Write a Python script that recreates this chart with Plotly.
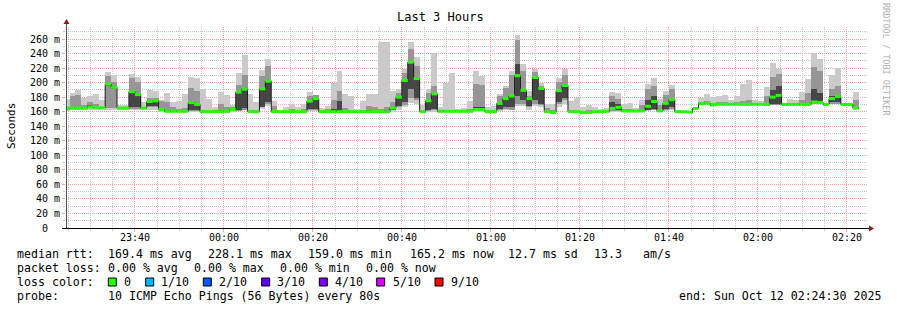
import plotly.graph_objects as go
import pandas as pd

# ---------------- data (ms) ----------------
median_ms = [165, 165, 165, 165, 166.5, 165.5, 165.5, 198, 193.5, 165,
             165, 187.5, 183.5, 165, 174, 175, 163, 160.5, 160.5, 160.5,
             160.5, 172.5, 170, 160, 160, 160, 160, 160.5, 163, 187,
             191, 160, 160, 191.5, 202, 160, 160, 160, 160, 160,
             160, 174.5, 178, 160, 160, 160, 160, 160, 160, 160,
             160, 160, 160, 160, 160, 165, 180, 203, 228.1, 205.5,
             160, 175, 184.5, 160.5, 160.5, 160.5, 160.5, 160.5, 160.5, 163,
             163, 160, 160, 171.5, 178, 181.6, 209.6, 189.4, 178, 207,
             192, 160, 159, 189, 196, 160, 160, 159, 159, 160,
             160, 160.5, 164.5, 166, 161, 161, 161, 161, 167.5, 174,
             161, 171.5, 176.5, 160, 160, 159.5, 164.5, 171, 171.5, 169.3,
             170.2, 170.2, 170.2, 170.2, 170.2, 170.2, 170.2, 170.2, 170.2, 180,
             182.5, 170, 170, 170, 170, 170, 173.4, 172.8, 170, 178,
             181, 170, 170, 165.2]
smoke_min = [161, 162, 162, 162, 162, 162, 162, 163, 163, 162,
             162, 163, 163, 162, 163, 163, 160, 159, 159, 159,
             159, 160, 160, 158, 158, 158, 158, 158, 160, 161,
             162, 158, 158, 164, 168, 158, 158, 158, 158, 158,
             158, 161, 161, 158, 158, 158, 158, 158, 158, 158,
             158, 158, 158, 158, 158, 160, 163, 166, 172, 170,
             158, 159, 160, 159, 159, 159, 159, 159, 159, 160,
             160, 158, 158, 161, 162, 162, 168, 168, 163, 168,
             166, 158, 157, 166, 170, 158, 158, 157, 157, 158,
             158, 158, 160, 160, 159, 159, 159, 159, 161, 162,
             159, 161, 162, 158, 158, 158, 163, 169, 169, 168,
             169, 169, 169, 169, 168, 168, 169, 169, 168, 169,
             169, 168, 168, 168, 168, 168, 170, 170, 168, 170,
             170, 169, 169, 163]
smoke_max = [178, 186, 190, 179, 181, 185, 176, 215, 210, 169,
             169, 212, 208, 174, 190, 189, 176, 186, 173, 175,
             184, 208, 206, 191, 178, 167, 187, 183, 169, 213,
             238, 185, 173, 217, 232, 175, 163, 167, 171, 167,
             170, 187, 183, 165, 168, 200, 216, 185, 181, 164,
             175, 184, 184, 256, 256, 189, 191, 219, 256, 235,
             169, 191, 241, 167, 200, 213, 164, 165, 175, 216,
             209, 166, 168, 185, 195, 216, 266, 225, 188, 219,
             199, 171, 170, 206, 219, 175, 179, 166, 169, 167,
             164, 165, 187, 186, 170, 172, 165, 176, 198, 206,
             177, 188, 197, 163, 162, 161, 165, 179, 184, 180,
             181, 183, 176, 181, 198, 203, 176, 175, 194, 227,
             219, 172, 177, 176, 187, 205, 241, 232, 172, 210,
             220, 171, 170, 187]
smoke_mid_lo = [163, 164, 164, 164, 165, 164, 164, 165, 165, 164,
                164, 164, 164, 164, 166, 166, 162, 160, 160, 160,
                160, 161, 161, 159, 159, 159, 159, 159, 161, 161,
                163, 159, 159, 166, 171, 160, 159, 159, 159, 159,
                159, 163, 163, 159, 159, 159, 160, 159, 159, 159,
                159, 159, 159, 159, 160, 162, 166, 169, 179, 176,
                159, 161, 163, 160, 160, 160, 160, 160, 159, 161,
                161, 159, 159, 163, 164, 163, 171, 171, 166, 171,
                169, 159, 158, 171, 176, 159, 159, 158, 158, 159,
                159, 159, 161, 161, 160, 160, 160, 160, 162, 163,
                160, 163, 164, 159, 159, 159, 164, 170, 170, 169,
                169, 169, 169, 169, 169, 169, 169, 169, 168, 169,
                169, 169, 169, 169, 169, 169, 171, 171, 169, 171,
                171, 169, 169, 164]
smoke_mid_hi = [167, 181, 183, 169, 173, 171, 167, 209, 201, 166,
                166, 206, 201, 167, 179, 179, 175, 173, 166, 164,
                165, 193, 189, 163, 162, 163, 171, 167, 167, 197,
                211, 163, 162, 209, 223, 168, 161, 161, 164, 161,
                164, 181, 183, 163, 164, 176, 189, 165, 163, 161,
                163, 168, 166, 164, 167, 173, 186, 213, 246, 223,
                163, 186, 196, 162, 163, 163, 162, 162, 164, 198,
                197, 162, 163, 181, 193, 211, 259, 216, 181, 215,
                196, 165, 163, 201, 211, 163, 163, 161, 162, 161,
                161, 162, 181, 178, 164, 164, 162, 169, 191, 196,
                169, 183, 191, 161, 161, 160, 165, 173, 175, 172,
                173, 174, 172, 173, 175, 176, 172, 172, 181, 208,
                212, 171, 172, 172, 176, 186, 221, 216, 171, 191,
                196, 171, 170, 176]
smoke_core_lo = [165, 165, 165, 165, 166, 165, 165, 196, 191, 165,
                 165, 166, 166, 165, 168, 168, 162, 160, 160, 160,
                 160, 162, 162, 160, 160, 160, 160, 160, 162, 163,
                 165, 160, 160, 167, 173, 160, 160, 160, 160, 160,
                 160, 164, 164, 160, 160, 160, 161, 160, 160, 160,
                 160, 160, 160, 160, 160, 163, 168, 173, 191, 179,
                 160, 162, 164, 160, 160, 160, 160, 160, 160, 162,
                 162, 160, 160, 164, 166, 166, 181, 176, 168, 176,
                 171, 160, 159, 173, 179, 160, 160, 159, 159, 160,
                 160, 160, 162, 162, 161, 161, 161, 161, 163, 164,
                 161, 164, 166, 160, 160, 159, 164, 171, 171, 169,
                 170, 170, 170, 170, 170, 170, 170, 170, 169, 171,
                 171, 170, 170, 170, 170, 170, 172, 172, 170, 173,
                 174, 170, 170, 164]
smoke_core_hi = [165, 165, 165, 165, 169, 166, 166, 200, 195, 165,
                 165, 188, 184, 165, 174, 175, 165, 163, 161, 161,
                 161, 173, 170, 160, 160, 160, 162, 161, 164, 187,
                 191, 160, 160, 191, 202, 160, 160, 160, 160, 160,
                 160, 175, 178, 160, 160, 164, 175, 160, 160, 160,
                 160, 161, 160, 160, 161, 165, 181, 203, 229, 206,
                 160, 175, 184, 161, 161, 161, 161, 161, 161, 166,
                 166, 160, 160, 172, 178, 182, 226, 191, 178, 207,
                 192, 160, 159, 189, 197, 160, 160, 159, 159, 160,
                 160, 161, 173, 171, 161, 161, 161, 162, 176, 181,
                 161, 173, 177, 160, 160, 160, 165, 171, 172, 170,
                 170, 170, 170, 170, 171, 171, 170, 170, 172, 190,
                 195, 170, 170, 170, 171, 172, 191, 186, 170, 181,
                 183, 170, 170, 166]

y_tick_vals = [0, 20, 40, 60, 80, 100, 120, 140, 160, 180, 200, 220, 240, 260]
y_tick_text = ["0\u00a0\u00a0", "20 m", "40 m", "60 m", "80 m", "100 m", "120 m",
               "140 m", "160 m", "180 m", "200 m", "220 m", "240 m", "260 m"]

rtt_labels = ["median rtt:", "169.4 ms avg", "228.1 ms max", "159.0 ms min",
              "165.2 ms now", "12.7 ms sd", "13.3", "am/s"]
loss_labels = ["packet loss:", "0.00 % avg", "0.00 % max", "0.00 % min", "0.00 % now"]
loss_color_names = ["0", "1/10", "2/10", "3/10", "4/10", "5/10", "9/10"]
loss_colors = ["#26ff00", "#00b8ff", "#0059ff", "#5e00ff", "#7e00ff", "#dd00ff", "#ff0000"]
probe_text = "10 ICMP Echo Pings (56 Bytes) every 80s"
end_text = "end: Sun Oct 12 02:24:30 2025"

STEP_S = 80
first_step = pd.Timestamp("2025-10-11 23:23:58")
n = len(median_ms)
starts = [first_step + pd.Timedelta(seconds=STEP_S * i) for i in range(n)]
centers = [s + pd.Timedelta(seconds=STEP_S / 2) for s in starts]
ends = [s + pd.Timedelta(seconds=STEP_S) for s in starts]
edges = starts + [ends[-1]]

# ---------------- geometry ----------------
W, H = 897, 310
L, R, T, B = 66, 867, 27, 228
PW, PH = R - L, B - T
def px(x): return (x - L) / PW
def py(y): return (B - y) / PH

FONT = "DejaVu Sans Mono"
fig = go.Figure()

def band(lo, hi, color):
    fig.add_trace(go.Bar(x=centers, base=lo, y=[h - l for l, h in zip(lo, hi)],
                         width=STEP_S * 1000, marker=dict(color=color, line=dict(width=0)),
                         hoverinfo="skip"))

band(smoke_min, smoke_max, "#cacaca")
band(smoke_mid_lo, smoke_mid_hi, "#969696")
band(smoke_core_lo, smoke_core_hi, "#464646")

# dark median line (step)
fig.add_trace(go.Scatter(x=edges, y=median_ms + [median_ms[-1]], mode="lines",
                         line=dict(color="#202020", width=1, shape="hv"), hoverinfo="skip"))
# loss-coloured median segments (horizontal only)
gx, gy = [], []
for s, e, m in zip(starts, ends, median_ms):
    gx += [s, e, None]
    gy += [m, m, None]
fig.add_trace(go.Scatter(x=gx, y=gy, mode="lines", connectgaps=False,
                         line=dict(color=loss_colors[0], width=3), hoverinfo="skip"))

ann = []
def text(x, y, s, size=11.6, color="#000", anchor="left", angle=0):
    ann.append(dict(x=px(x), y=py(y), xref="paper", yref="paper", text=s, showarrow=False,
                    xanchor=anchor, yanchor="middle", textangle=angle, borderpad=0,
                    font=dict(family=FONT, size=size, color=color)))

text(440, 17, "Last 3 Hours", size=12, anchor="center")
text(11, 126, "Seconds", size=11, anchor="center", angle=-90)
text(886, 59, "RRDTOOL / TOBI OETIKER", size=8.5, color="#b0b0b0", anchor="center", angle=90)

for s, x in zip(rtt_labels, [16, 107.3, 207.3, 306.7, 409.3, 507.3, 593.3, 642.3]):
    text(x, 254, s)
for s, x in zip(loss_labels, [16, 107.3, 193.3, 279.3, 365.3]):
    text(x, 268, s)
text(16, 282, "loss color:")
shapes = []
for s, c, bx, tx in zip(loss_color_names, loss_colors,
                        [108.3, 145.7, 203.3, 261.7, 319.3, 376.7, 435],
                        [122.7, 160, 218.3, 276, 333.7, 391.7, 450]):
    shapes.append(dict(type="rect", xref="paper", yref="paper", x0=px(bx), x1=px(bx + 8),
                       y0=py(286), y1=py(278), fillcolor=c, line=dict(color="#000", width=1)))
    text(tx, 282, s)
text(16, 296, "probe:")
text(107.3, 296, probe_text)
text(678.3, 296, end_text)

# axis lines and arrows
shapes.append(dict(type="line", xref="paper", yref="paper", x0=px(66.5), x1=px(66.5),
                   y0=py(228), y1=py(23), line=dict(color="#505050", width=1)))
shapes.append(dict(type="line", xref="paper", yref="paper", x0=px(62), x1=px(869),
                   y0=py(228.5), y1=py(228.5), line=dict(color="#000", width=1)))
shapes.append(dict(type="path", xref="paper", yref="paper", xsizemode="pixel", ysizemode="pixel",
                   xanchor=px(66.5), yanchor=py(24), path="M -3 0 L 3 0 L 0 5 Z",
                   fillcolor="#8b1a1a", line=dict(width=0)))
shapes.append(dict(type="path", xref="paper", yref="paper", xsizemode="pixel", ysizemode="pixel",
                   xanchor=px(869), yanchor=py(228.5), path="M 0 -3 L 0 3 L 5 0 Z",
                   fillcolor="#8b1a1a", line=dict(width=0)))

major = "#ff9a9a"
minor = "#c4c4c4"
fig.update_layout(
    width=W, height=H, margin=dict(l=L, r=W - R, t=T, b=H - B),
    paper_bgcolor="white", plot_bgcolor="white", showlegend=False,
    barmode="overlay", bargap=0, annotations=ann, shapes=shapes,
    xaxis=dict(type="date", range=["2025-10-11 23:24:30", "2025-10-12 02:24:30"],
               tickformat="%H:%M", dtick=1200000, tick0="2025-10-11 23:40:00",
               showgrid=True, gridcolor=major, griddash="1px,1px", gridwidth=1,
               ticks="outside", ticklen=3, tickcolor=major, zeroline=False, showline=False,
               ticklabelstandoff=-3,
               tickfont=dict(family=FONT, size=10, color="#000"),
               minor=dict(dtick=300000, tick0="2025-10-11 23:40:00", showgrid=True,
                          gridcolor=minor, griddash="1px,1px", ticks="outside", ticklen=2,
                          tickcolor=minor),
               fixedrange=True),
    yaxis=dict(range=[0, (B - T) / (189 / 260)], tickmode="array", tickvals=y_tick_vals,
               ticktext=y_tick_text, showgrid=True, gridcolor=major, griddash="1px,1px",
               ticks="outside", ticklen=3, tickcolor=major, zeroline=False, showline=False,
               tickfont=dict(family=FONT, size=10, color="#000"),
               minor=dict(dtick=10, tick0=0, showgrid=True, gridcolor=minor,
                          griddash="1px,1px", ticks="outside", ticklen=2, tickcolor=minor),
               fixedrange=True),
)
fig.write_html("out.html", config={"displayModeBar": False})
